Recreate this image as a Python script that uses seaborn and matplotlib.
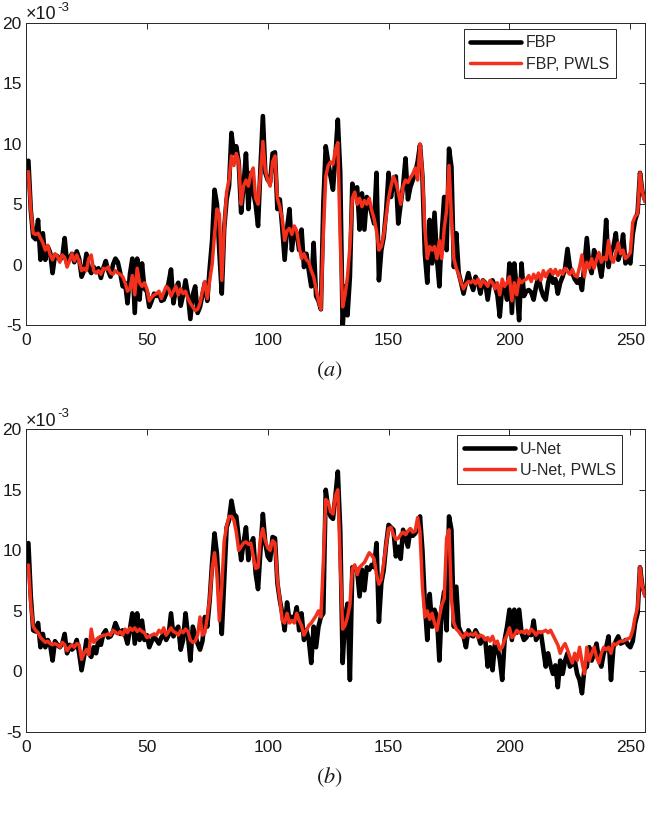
import numpy as np
import pandas as pd
import matplotlib
matplotlib.use("Agg")
import matplotlib.pyplot as plt
import seaborn as sns

# values in units of 1e-3
fbp = [8.6, 4.5, 2.3, 2.1, 3.7, 0.4, 2.6, 0.4, 1.5, 1.0,
       -0.7, 0.8, 0.7, 0.4, 0.6, 2.2, 0.1, 0.5, 0.9, 0.2,
       1.1, 0.5, -1.0, -0.5, 0.9, -0.3, -0.7, -0.2, -0.5, -0.3,
       -1.1, -0.3, 0.3, -0.5, -1.0, 0.0, 0.5, 0.2, -0.7, -1.8,
       -1.5, -3.2, -0.8, 0.5, -4.0, 0.5, -2.9, 0.1, -2.0, -2.2,
       -3.5, -3.0, -2.4, -2.6, -2.4, -3.0, -2.9, -2.4, -1.5, -0.4,
       -3.2, -2.0, -1.5, -3.4, -2.5, -1.3, -2.5, -4.5, -2.5, -1.8,
       -4.0, -3.5, -2.5, -1.5, -3.0, -0.3, 2.0, 6.2, 5.0, 1.0,
       -2.4, 3.0, 5.4, 6.5, 10.9, 9.2, 9.8, 8.5, 4.3, 6.5,
       9.2, 4.6, 7.6, 6.0, 5.0, 3.2, 8.0, 12.3, 7.6, 7.0,
       6.8, 9.2, 9.3, 4.6, 5.4, 3.1, 0.4, 3.0, 4.6, 1.2,
       3.0, 2.6, 1.2, 2.9, -0.2, 0.9, -0.5, -1.8, 1.8, -2.6,
       -3.0, -3.7, 5.0, 9.8, 8.5, 7.3, 6.2, 9.0, 12.0, 7.6,
       -5.2, -1.8, -4.2, -1.0, 6.7, 6.0, 6.4, 2.9, 5.9, 2.9,
       5.6, 5.0, 4.2, 3.4, 7.6, -1.3, 1.2, 2.3, 4.5, 7.6,
       5.6, 7.0, 7.3, 3.4, 5.0, 6.5, 8.8, 5.4, 6.4, 7.0,
       7.6, 8.5, 9.9, 7.3, 0.9, -1.5, 3.7, 0.1, 4.3, 0.5,
       -1.8, 2.6, 5.6, 1.2, 9.6, 8.1, -0.2, 2.6, -0.7, -1.5,
       -2.4, -1.5, -0.7, -1.5, -2.1, -1.0, -1.5, -2.4, -1.3, -1.5,
       -2.9, -1.5, -1.3, -1.8, -2.5, -4.3, -1.8, -1.8, -2.9, 0.1,
       -4.0, 0.1, -2.0, -4.6, 0.1, -2.6, -2.2, -2.1, -2.3, -2.9,
       -1.8, -1.0, -2.0, -2.6, -2.9, -1.5, -0.7, -1.5, -1.2, -2.4,
       -1.5, -1.0, -0.3, 1.3, -0.2, -0.7, -1.2, -1.5, -1.2, -2.1,
       0.0, 2.2, 0.0, -0.7, 1.2, 0.5, 0.1, -1.0, 0.5, 3.7,
       -0.2, 1.0, 1.5, 2.6, 0.4, 1.0, 2.5, 0.1, 0.6, 0.1,
       2.5, 3.7, 4.3, 7.6, 6.0, 5.4]

fbp_pwls = [7.7, 4.5, 2.6, 2.5, 2.6, 2.2, 1.8, 1.2, 1.6, 0.8,
            0.4, 0.9, 0.7, 0.2, 0.8, 0.6, -0.2, 0.3, 0.9, 0.3,
            0.8, 0.3, -0.5, -0.3, -0.5, 0.5, 0.8, -0.5, -0.7, -0.5,
            -0.8, -0.3, -0.4, -0.2, -0.7, -0.8, -0.5, -0.7, -0.8, -1.0,
            -1.5, -2.2, -2.0, -0.9, -2.5, -0.3, -1.5, -1.8, -1.5, -2.0,
            -3.0, -2.7, -2.5, -2.4, -2.2, -2.8, -2.3, -1.8, -2.0, -2.6,
            -2.2, -1.8, -2.5, -2.0, -2.4, -2.2, -2.8, -3.2, -3.5, -3.8,
            -3.7, -3.2, -2.2, -1.4, -2.8, -1.3, 0.0, 2.5, 4.6, 4.2,
            -1.3, 3.0, 6.0, 7.0, 9.0, 8.2, 9.2, 8.5, 5.0, 6.5,
            7.0, 6.5, 7.5, 8.0, 5.5, 5.0, 7.5, 10.2, 7.8, 7.0,
            6.5, 8.5, 9.0, 5.5, 4.8, 3.8, 2.0, 2.8, 3.0, 2.5,
            3.2, 2.8, 1.5, 0.5, 0.9, 0.4, 0.2, -0.5, -1.0, -2.0,
            -3.0, -3.7, 2.5, 7.3, 8.2, 8.5, 8.3, 9.5, 10.1, 2.0,
            -3.5, -2.5, -1.0, 1.5, 5.5, 6.0, 5.0, 5.5, 4.8, 5.3,
            5.0, 5.5, 4.5, 3.8, 2.8, 1.2, 1.5, 2.5, 4.0, 5.5,
            6.5, 7.3, 6.8, 6.0, 5.0, 6.5, 7.0, 6.8, 7.2, 7.5,
            8.0, 7.0, 10.0, 7.5, 3.0, 0.5, 1.5, 1.2, 1.5, 0.5,
            2.0, 0.5, 3.0, 4.5, 8.2, 4.0, 0.5, -0.3, -0.8, -1.5,
            -2.0, -1.6, -1.4, -1.5, -1.3, -1.6, -1.2, -1.8, -1.3, -1.5,
            -1.8, -1.3, -1.5, -2.0, -1.5, -2.5, -1.2, -1.8, -1.5, -1.0,
            -3.0, -1.5, -2.5, -1.2, -1.5, -1.3, -1.2, -0.9, -1.4, -0.8,
            -1.2, -0.7, -1.3, -0.5, -1.0, -0.6, -0.4, -0.8, -0.4, -0.9,
            -0.5, -0.8, -0.3, -0.6, -0.8, -0.4, -0.9, -1.0, -0.2, 0.8,
            -1.0, 0.2, -0.3, 0.5, -0.3, 0.4, 1.0, 0.2, 0.6, 0.4,
            2.0, 0.5, 0.2, 1.0, 1.8, 0.9, 1.2, 0.5, 0.7, 1.0,
            3.5, 4.0, 4.2, 7.6, 6.0, 5.2]

unet = [10.6, 6.2, 3.4, 3.3, 4.0, 2.0, 3.1, 2.0, 2.6, 2.2,
        0.9, 2.5, 2.2, 2.0, 2.3, 3.1, 1.5, 2.2, 1.8, 2.0,
        2.6, 1.5, 0.1, 1.2, 2.6, 1.5, 1.2, 2.0, 1.5, 2.6,
        2.2, 3.1, 3.4, 2.8, 2.9, 3.3, 4.0, 3.5, 3.1, 3.4,
        3.0, 2.3, 3.5, 4.8, 2.3, 4.8, 2.6, 4.2, 2.6, 3.0,
        2.0, 2.5, 2.9, 2.6, 2.3, 2.8, 3.1, 2.6, 3.0, 4.8,
        2.9, 3.4, 3.7, 1.8, 2.6, 4.8, 3.0, 0.9, 3.7, 3.0,
        2.3, 1.8, 2.5, 4.5, 3.7, 5.9, 9.0, 11.4, 9.7, 6.0,
        3.1, 7.5, 11.9, 12.5, 14.1, 13.0, 12.8, 11.0, 9.2, 10.6,
        11.9, 9.2, 10.5, 11.0, 8.1, 6.8, 10.0, 13.0, 10.6, 9.5,
        9.2, 11.1, 11.0, 7.3, 5.9, 4.8, 3.4, 5.7, 4.2, 4.5,
        4.4, 5.3, 3.4, 4.8, 2.6, 3.4, 2.6, 0.7, 3.7, 2.0,
        3.7, 4.5, 4.8, 15.0, 13.5, 12.8, 12.6, 14.5, 16.5, 11.7,
        0.7, 4.5, 5.6, -0.7, 8.6, 8.6, 8.3, 6.2, 8.4, 6.7,
        8.6, 8.4, 8.8, 8.6, 10.6, 4.1, 7.3, 8.4, 10.5, 12.1,
        11.9, 11.7, 9.5, 10.3, 9.3, 11.7, 11.0, 10.3, 11.7, 11.2,
        11.4, 11.8, 12.8, 10.0, 5.6, 2.6, 6.4, 3.7, 5.1, 4.5,
        0.9, 5.3, 6.6, 3.4, 12.8, 11.7, 3.7, 7.0, 3.7, 3.2,
        2.9, 2.0, 3.4, 3.0, 2.9, 3.4, 3.0, 2.3, 2.8, 2.6,
        0.4, 2.0, 0.1, 2.3, 2.0, 1.0, -0.7, 2.6, 3.7, 5.1,
        2.6, 5.1, 3.2, 5.1, 3.2, 2.6, 2.8, 3.2, 3.0, 4.2,
        2.6, 3.0, 3.2, 1.8, 0.4, 1.5, 0.5, -0.2, 0.5, -1.3,
        0.9, -0.2, 0.9, 1.5, 0.4, 0.6, 0.9, -0.2, -0.7, -1.8,
        0.2, 0.4, 2.0, 0.9, 1.5, 2.3, 1.0, 0.4, 1.5, 2.0,
        2.9, -0.7, 2.0, 2.5, 2.9, 2.3, 2.4, 2.6, 2.2, 2.0,
        2.5, 4.0, 4.8, 8.6, 7.0, 6.4]

unet_pwls = [8.8, 5.5, 3.7, 3.4, 3.2, 2.8, 2.6, 2.4, 2.5, 2.3,
             2.2, 2.3, 2.2, 2.0, 2.4, 2.2, 1.7, 2.0, 2.2, 2.0,
             2.3, 2.2, 1.0, 1.5, 1.8, 1.4, 3.5, 2.4, 2.6, 2.8,
             2.9, 3.0, 3.0, 3.1, 3.0, 3.4, 3.2, 3.1, 3.3, 3.0,
             3.5, 3.2, 3.6, 3.4, 3.6, 3.3, 3.5, 3.3, 3.2, 2.8,
             2.9, 3.0, 3.1, 3.0, 3.4, 3.2, 3.6, 3.0, 3.3, 3.6,
             3.3, 3.2, 3.0, 3.4, 3.2, 3.5, 3.3, 2.6, 2.4, 2.5,
             3.0, 4.5, 3.0, 3.2, 4.5, 6.0, 8.5, 9.8, 8.0, 4.2,
             7.0, 10.8, 12.0, 12.8, 12.8, 12.5, 11.5, 10.0, 10.3, 10.6,
             10.7, 10.5, 10.6, 9.5, 8.5, 8.6, 11.0, 11.8, 10.8, 10.2,
             10.0, 10.8, 10.6, 7.5, 6.0, 4.2, 4.0, 4.8, 4.0, 4.2,
             4.0, 4.8, 4.2, 3.8, 3.0, 3.4, 3.8, 4.0, 4.3, 4.6,
             5.0, 4.5, 9.0, 14.2, 14.0, 13.2, 13.0, 14.5, 15.0, 9.0,
             3.5, 3.8, 4.5, 5.5, 8.5, 8.8, 8.0, 8.6, 8.8, 9.0,
             9.4, 9.8, 9.6, 9.3, 8.0, 7.2, 7.6, 9.0, 10.5, 11.8,
             11.9, 11.3, 10.9, 11.0, 11.3, 11.5, 11.3, 11.6, 11.8, 11.5,
             11.6, 12.7, 11.5, 7.0, 4.5, 5.0, 4.3, 4.8, 4.0, 3.4,
             4.5, 5.5, 6.0, 11.0, 11.7, 6.0, 4.0, 3.5, 3.3, 3.0,
             2.8, 3.2, 3.0, 3.1, 3.0, 3.2, 2.8, 3.0, 2.9, 2.6,
             2.8, 2.5, 2.9, 2.3, 2.5, 1.8, 2.0, 2.6, 3.0, 3.6,
             2.8, 3.0, 3.4, 3.2, 3.3, 3.2, 3.4, 3.1, 3.5, 3.3,
             3.0, 3.3, 3.2, 3.3, 3.4, 3.2, 3.4, 3.0, 2.6, 2.2,
             1.5, 2.0, 2.3, 1.8, 1.2, 0.7, 1.5, 0.9, 2.0, 0.8,
             -0.2, 2.0, 0.9, 1.5, 2.0, 1.2, 0.7, 1.5, 2.0, 1.8,
             2.0, 1.5, 2.3, 2.2, 2.4, 2.5, 2.5, 2.6, 2.7, 2.8,
             3.4, 4.5, 5.3, 8.6, 7.0, 6.2]

pixel_index = list(range(1, 257))
x_ticks = [0, 50, 100, 150, 200, 250]
y_ticks = [-5, 0, 5, 10, 15, 20]
panels = [
    ("(a)", "FBP", "FBP, PWLS", fbp, fbp_pwls),
    ("(b)", "U-Net", "U-Net, PWLS", unet, unet_pwls),
]

for arr in (fbp, fbp_pwls, unet, unet_pwls):
    assert len(arr) == 256

sns.set_theme(style="white")
plt.rcParams["font.family"] = ["Liberation Sans", "DejaVu Sans"]
plt.rcParams["axes.unicode_minus"] = False

BLACK = "#000000"
RED = "#F2301B"
TXT = "#1a1a1a"

fig = plt.figure(figsize=(6.46, 8.14), dpi=100)
ax_rects = [[0.0402, 0.6007, 0.958, 0.371],
            [0.0402, 0.1007, 0.958, 0.372]]
legend_anchor = [(0.953, 0.98), (0.963, 0.98)]

for i, (cap, lab1, lab2, s1, s2) in enumerate(panels):
    ax = fig.add_axes(ax_rects[i])
    df = pd.DataFrame({"x": pixel_index, "s1": s1, "s2": s2})
    sns.lineplot(data=df, x="x", y="s1", ax=ax, color=BLACK, linewidth=3.3,
                 label=lab1)
    sns.lineplot(data=df, x="x", y="s2", ax=ax, color=RED, linewidth=2.5,
                 label=lab2)
    ax.set_xlim(0, 256)
    ax.set_ylim(-5, 20)
    ax.set_xticks(x_ticks)
    ax.set_yticks(y_ticks)
    ax.set_xlabel("")
    ax.set_ylabel("")
    ax.tick_params(direction="in", top=True, right=True, length=4,
                   width=0.7, labelsize=12.5, colors="#262626", pad=3)
    ax.tick_params(axis="x", pad=6)
    ax.tick_params(axis="both", labelcolor=TXT)
    for sp in ax.spines.values():
        sp.set_color("#262626")
        sp.set_linewidth(0.7)
    leg = ax.legend(loc="upper right", bbox_to_anchor=legend_anchor[i],
                    frameon=True, fancybox=False, edgecolor="#262626",
                    framealpha=1, fontsize=11.5, handlelength=3.2,
                    borderpad=0.4, labelspacing=0.4, handletextpad=0.3,
                    borderaxespad=0.0)
    leg.get_frame().set_linewidth(0.7)
    # x10^-3 exponent label
    ax.text(0.0, 1.012, "\u00d710", transform=ax.transAxes, fontsize=13,
            ha="left", va="baseline", color=TXT)
    ax.text(0.051, 1.040, "-3", transform=ax.transAxes, fontsize=9.5,
            ha="left", va="baseline", color=TXT)
    # panel caption
    ax.text(0.49, -0.15, r"$(\mathit{" + cap[1] + r"})$",
            transform=ax.transAxes, fontsize=16, ha="center", va="center",
            math_fontfamily="stix", color=TXT)

fig.savefig("out.png", dpi=100)
